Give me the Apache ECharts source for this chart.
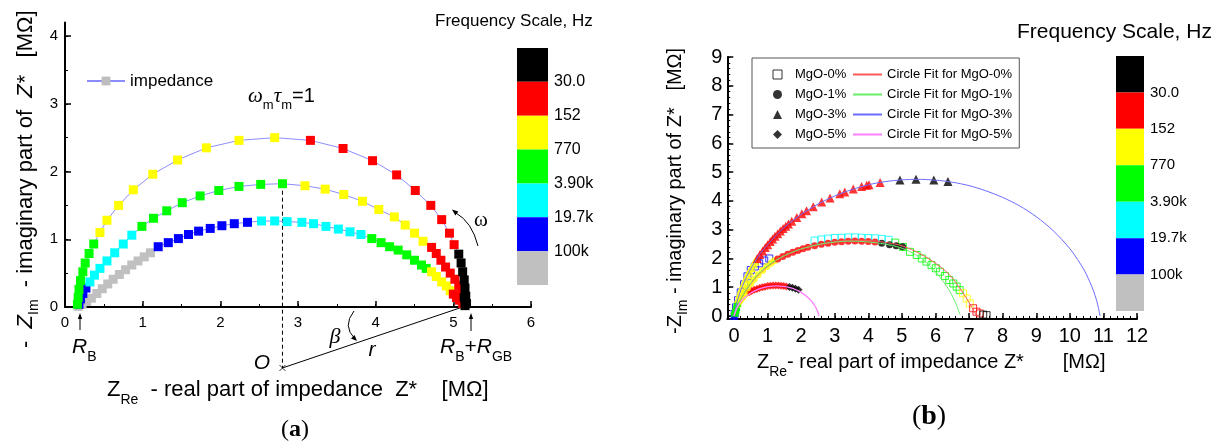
<!DOCTYPE html>
<html><head><meta charset="utf-8">
<script src="https://cdn.jsdelivr.net/npm/echarts@6/dist/echarts.min.js"></script>
<style>html,body{margin:0;padding:0;background:#fff}#c{width:1220px;height:444px}</style>
</head><body><div id="c"></div>
<script>
// ---------- shared ----------
const bandColors = ['#000000','#ff0000','#ffff00','#00ff00','#00ffff','#0000ff','#c0c0c0'];
const freqLabels = ['30.0','152','770','3.90k','19.7k','100k'];

// ---------- panel (a): [Z_re, -Z_im, frequency band] ----------
const aOuter = [[0.16,0.04,3],[0.17,0.14,3],[0.18,0.26,3],[0.2,0.39,3],[0.23,0.52,3],[0.26,0.65,3],[0.31,0.79,3],[0.37,0.93,3],
 [0.45,1.1,2],[0.54,1.28,2],[0.69,1.5,2],[0.88,1.73,2],[1.13,1.96,2],[1.45,2.17,2],[1.82,2.35,2],[2.24,2.46,2],[2.7,2.5,2],
 [3.16,2.46,1],[3.58,2.34,1],[3.96,2.16,1],[4.27,1.95,1],[4.51,1.72,1],[4.71,1.5,1],[4.85,1.29,1],[4.95,1.09,1],[5.01,0.92,1],
 [5.07,0.78,0],[5.1,0.65,0],[5.12,0.52,0],[5.14,0.4,0],[5.15,0.28,0],[5.16,0.16,0],[5.17,0.05,0]];
const aMiddle = [[0.18,0.04,5],[0.2,0.12,5],[0.23,0.2,5],[0.27,0.28,5],
 [0.32,0.37,4],[0.38,0.47,4],[0.45,0.57,4],[0.54,0.68,4],[0.64,0.8,4],[0.75,0.93,4],[0.86,1.06,4],
 [0.99,1.19,3],[1.14,1.31,3],[1.31,1.42,3],[1.51,1.54,3],[1.74,1.64,3],[1.98,1.72,3],[2.24,1.78,3],[2.52,1.81,3],[2.8,1.82,3],
 [3.09,1.79,2],[3.35,1.74,2],[3.59,1.66,2],[3.83,1.56,2],[4.04,1.44,2],[4.24,1.33,2],[4.38,1.21,2],[4.5,1.09,2],[4.61,0.97,2],
 [4.72,0.88,1],[4.78,0.79,1],[4.84,0.69,1],[4.9,0.59,1],[4.96,0.5,1],[5.02,0.41,1],[5.07,0.32,1],[5.11,0.23,1],
 [5.14,0.14,0],[5.16,0.05,0]];
const aInner = [[0.17,0.01,6],[0.22,0.04,6],[0.28,0.08,6],[0.34,0.13,6],[0.41,0.2,6],[0.48,0.27,6],[0.55,0.34,6],[0.62,0.41,6],[0.7,0.48,6],[0.78,0.55,6],[0.86,0.62,6],[0.94,0.68,6],[1.02,0.74,6],[1.1,0.8,6],
 [1.2,0.89,5],[1.33,0.95,5],[1.46,1.01,5],[1.59,1.07,5],[1.72,1.12,5],[1.87,1.16,5],[2.02,1.2,5],[2.18,1.23,5],[2.35,1.25,5],
 [2.53,1.27,4],[2.7,1.27,4],[2.86,1.26,4],[3.05,1.25,4],[3.2,1.23,4],[3.36,1.19,4],[3.52,1.15,4],[3.67,1.11,4],[3.81,1.07,4],
 [3.95,1.01,3],[4.07,0.95,3],[4.18,0.89,3],[4.29,0.84,3],[4.4,0.77,3],[4.5,0.69,3],[4.59,0.62,3],[4.65,0.57,3],
 [4.72,0.52,2],[4.78,0.45,2],[4.85,0.37,2],[4.91,0.31,2],[4.96,0.24,2],
 [5.0,0.19,1],[5.04,0.14,1],[5.08,0.1,1],[5.12,0.05,1],[5.15,0.02,0]];
const aPeak = [2.8, 1.82];
const aCenterO = [2.8, -0.9];
const aEnd = [5.12, 0];
const aXLabels = [0,1,2,3,4,5,6];
const aXTicks = [0,0.5,1,1.5,2,2.5,3,3.5,4,4.5,5,5.5,6];
const aYLabels = [0,1,2,3,4];
const aYTicks = [0,0.5,1,1.5,2,2.5,3,3.5,4];

// ---------- panel (b) ----------
const bMgO0 = [[0.02,0.08,5],[0.06,0.3,5],[0.12,0.55,5],[0.2,0.82,5],[0.3,1.1,5],[0.4,1.38,5],[0.5,1.6,5],[0.62,1.72,5],[0.75,1.83,5],[0.9,1.93,5],[1.05,2.0,5],
 [2.4,2.62,4],[2.6,2.66,4],[2.8,2.69,4],[3.0,2.71,4],[3.2,2.72,4],[3.4,2.73,4],[3.6,2.73,4],[3.8,2.72,4],[4.0,2.71,4],[4.2,2.7,4],[4.4,2.68,4],[4.6,2.65,4],
 [4.8,2.55,3],[5.03,2.4,3],[5.24,2.23,3],[5.44,2.12,3],[5.59,2.0,3],[5.73,1.89,3],[5.88,1.77,3],[6.01,1.66,3],[6.13,1.54,3],[6.28,1.39,3],[6.41,1.25,3],[6.53,1.13,3],[6.63,1.02,3],[6.72,0.9,3],
 [6.82,0.79,2],[6.93,0.61,2],[7.02,0.44,2],[7.12,0.27,1],[7.22,0.15,1],[7.32,0.09,1],[7.42,0.05,0],[7.52,0.03,0]];
const bMgO1 = [[0.02,0.06,3],[0.05,0.17,3],[0.08,0.28,3],
 [0.12,0.4,2],[0.2,0.58,2],[0.3,0.8,2],[0.4,0.97,2],[0.5,1.13,2],[0.6,1.28,2],[0.72,1.43,2],[0.85,1.58,2],[0.98,1.72,2],[1.1,1.83,2],[1.2,1.92,2],
 [1.3,1.98,1],[1.45,2.07,1],[1.6,2.15,1],[1.75,2.22,1],[1.9,2.28,1],[2.05,2.34,1],[2.2,2.39,1],[2.4,2.44,1],[2.6,2.49,1],[2.8,2.53,1],[3.0,2.56,1],[3.2,2.58,1],[3.4,2.6,1],[3.6,2.61,1],[3.8,2.6,1],[4.0,2.59,1],[4.2,2.57,1],
 [4.4,2.53,0],[4.63,2.48,0],[4.83,2.44,0],[5.02,2.41,0]];
const bMgO3 = [[0.0,0.02,5],[0.02,0.13,3],[0.04,0.24,3],[0.06,0.35,3],[0.09,0.48,3],
 [0.12,0.61,2],[0.17,0.79,2],[0.22,0.95,2],[0.28,1.13,2],[0.34,1.28,2],[0.4,1.43,2],[0.46,1.56,2],[0.52,1.69,2],[0.58,1.81,2],[0.63,1.9,2],
 [0.69,2.0,1],[0.77,2.14,1],[0.85,2.26,1],[0.93,2.38,1],[1.0,2.48,1],[1.08,2.59,1],[1.15,2.68,1],[1.22,2.77,1],[1.3,2.86,1],[1.38,2.95,1],[1.46,3.04,1],[1.54,3.12,1],[1.62,3.2,1],[1.72,3.29,1],[1.87,3.42,1],[2.02,3.55,1],[2.16,3.66,1],[2.36,3.8,1],[2.61,3.96,1],[2.86,4.1,1],[3.15,4.25,1],[3.3,4.31,1],[3.55,4.41,1],[3.8,4.5,1],[3.95,4.54,1],[4.02,4.56,1],[4.35,4.64,1],
 [4.94,4.73,0],[5.42,4.75,0],[5.95,4.73,0],[6.37,4.67,0]];
const bMgO5 = [[0.0,0.02,5],[0.02,0.1,3],[0.05,0.22,2],[0.1,0.35,2],[0.16,0.47,2],[0.23,0.58,2],[0.3,0.68,2],[0.38,0.77,2],
 [0.45,0.83,1],[0.52,0.87,1],[0.6,0.91,1],[0.68,0.94,1],[0.76,0.97,1],[0.84,1.0,1],[0.92,1.02,1],[1.0,1.04,1],[1.08,1.05,1],[1.16,1.06,1],[1.24,1.06,1],[1.32,1.06,1],[1.4,1.05,1],[1.48,1.04,1],[1.56,1.03,1],
 [1.65,1.01,0],[1.74,0.98,0],[1.83,0.95,0],[1.92,0.91,0]];
const bFit0 = [[0,0],[0.1,0.33],[0.3,0.78],[0.6,1.27],[1.0,1.72],[1.5,2.08],[2.0,2.32],[2.5,2.48],[3.0,2.58],[3.45,2.63],[4.0,2.62],[4.5,2.56],[4.94,2.46],[5.4,2.25],[5.93,1.89],[6.43,1.42],[6.82,0.8],[7.0,0.47],[7.12,0.22],[7.22,0.02]];
const bFit1 = [[0,0],[0.1,0.35],[0.3,0.8],[0.6,1.3],[1.0,1.75],[1.5,2.1],[2.0,2.33],[2.5,2.48],[3.0,2.57],[3.5,2.6],[3.95,2.58],[4.5,2.5],[4.94,2.38],[5.3,2.2],[5.6,1.98],[5.93,1.62],[6.2,1.25],[6.43,0.85],[6.6,0.45],[6.73,0.05]];
const bFit3 = [[0,0],[0.1,0.53],[0.25,1.04],[0.5,1.65],[0.75,2.12],[1.0,2.48],[1.5,3.08],[2.0,3.53],[2.5,3.89],[3.0,4.17],[3.5,4.39],[4.0,4.56],[4.5,4.67],[5.0,4.73],[5.45,4.75],[6.0,4.72],[6.5,4.65],[7.0,4.53],[7.5,4.35],[8.0,4.12],[8.5,3.83],[9.0,3.45],[9.5,2.97],[10.0,2.34],[10.3,1.84],[10.5,1.43],[10.7,0.89],[10.8,0.53],[10.85,0.29],[10.9,0.0]];
const bFit5 = [[0,0],[0.1,0.31],[0.25,0.56],[0.5,0.8],[0.75,0.94],[1.0,1.02],[1.265,1.05],[1.5,1.03],[1.75,0.96],[2.0,0.82],[2.25,0.59],[2.4,0.37],[2.5,0.13],[2.53,0.0]];
const bXLabels = [0,1,2,3,4,5,6,7,8,9,10,11,12];
const bYLabels = [0,1,2,3,4,5,6,7,8,9];
const bXTicks = Array.from({length:61},(_,i)=>+(i*0.2).toFixed(1));
const bYTicks = Array.from({length:46},(_,i)=>+(i*0.2).toFixed(1));

// ---------- helpers ----------
const SANS = '"Liberation Sans", Arial, sans-serif';
const SERIF = '"Liberation Serif", "Times New Roman", serif';
const mctx = document.createElement('canvas').getContext('2d');
function fontStr(p){ return (p.it?'italic':'normal')+' '+(p.b?'bold':'normal')+' '+p.s+'px '+(p.serif?SERIF:SANS); }
function run(pieces, x, y, opt) {
  opt = opt || {};
  let cx = 0; const kids = [];
  pieces.forEach(p => {
    const f = fontStr(p); mctx.font = f;
    kids.push({type:'text', x:cx, y:p.dy||0, style:{text:p.t, font:f, fill:'#000', align:'left', verticalAlign:'middle', textAlign:'left', textVerticalAlign:'middle'}});
    cx += mctx.measureText(p.t).width;
  });
  const off = opt.anchor==='center' ? -cx/2 : (opt.anchor==='right' ? -cx : 0);
  kids.forEach(k => k.x += off);
  return {type:'group', x:x, y:y, rotation:opt.rot||0, children:kids};
}
function colorBar(x, y0, w, h, labelX, fs) {
  const els = [];
  bandColors.forEach((c,i)=>els.push({type:'rect', shape:{x:x, y:y0+i*h, width:w, height:h}, style:{fill:c}}));
  freqLabels.forEach((t,i)=>els.push(run([{t:t, s:fs}], labelX, y0+(i+1)*h)));
  return els;
}
function axisPair(gridIndex, dim, min, max, labels, minor, fs, margin) {
  const pos = dim==='x' ? 'bottom' : 'left';
  return [
    {gridIndex, type:'value', position:pos, min, max,
     axisLine:{show:true, onZero:false, lineStyle:{color:'#000', width:2}},
     axisTick:{show:true, inside:true, length:3, customValues:minor, lineStyle:{color:'#000', width:1}},
     axisLabel:{show:true, customValues:labels, color:'#000', fontSize:fs, fontFamily:SANS, margin},
     splitLine:{show:false}},
    {gridIndex, type:'value', position:pos, min, max,
     axisLine:{show:false, onZero:false},
     axisTick:{show:true, inside:true, length:6, customValues:labels, lineStyle:{color:'#000', width:1.5}},
     axisLabel:{show:false}, splitLine:{show:false}}
  ];
}
const filled = arr => arr.map(p => ({value:[p[0],p[1]], itemStyle:{color:bandColors[p[2]]}}));
const open = arr => arr.map(p => ({value:[p[0],p[1]], itemStyle:{color:'rgba(255,255,255,0)', borderColor:bandColors[p[2]], borderWidth:1}}));

const arcSeries = (arr) => ({type:'line', name:'impedance', xAxisIndex:0, yAxisIndex:0, data:filled(arr), symbol:'rect', symbolSize:9,
  showAllSymbol:true, lineStyle:{color:'#8c8cff', width:1}, itemStyle:{color:'#bdbdbd'}, z:3});
const fitSeries = (name, data, color, w) => ({type:'line', name, xAxisIndex:2, yAxisIndex:2, data, symbol:'none', smooth:0.3,
  lineStyle:{color, width:w}, itemStyle:{color}, z:4});

const chart = echarts.init(document.getElementById('c'));
const ax = axisPair(0,'x',0,6,aXLabels,aXTicks,15,8);
const ay = axisPair(0,'y',0,4.2,aYLabels,aYTicks,15,7);
const bx = axisPair(1,'x',-0.2,12,bXLabels,bXTicks,20,8);
const by = axisPair(1,'y',-0.1,9,bYLabels,bYTicks,20,5);

const graphics = [].concat(
  // panel a texts
  [run([{t:'Frequency Scale, Hz', s:17}], 435, 21)],
  colorBar(517, 48, 31, 33.86, 554, 16),
  [run([{t:'-  ',s:22},{t:'Z',s:22,it:1},{t:'Im',s:14,dy:8},{t:'  - imaginary part of  ',s:22},{t:'Z*',s:22,it:1},{t:'   [M\u03A9]',s:22}], 26, 348, {rot:Math.PI/2}),
   run([{t:'Z',s:22},{t:'Re',s:14,dy:10},{t:'  - real part of impedance  ',s:22},{t:'Z*',s:22},{t:'    [M\u03A9]',s:22}], 107, 390),
   run([{t:'(',s:24,serif:1},{t:'a',s:24,serif:1,b:1},{t:')',s:24,serif:1}], 295, 430, {anchor:'center'}),
   run([{t:'\u03C9',s:21,serif:1,it:1},{t:'m',s:13,dy:9},{t:'\u03C4',s:21,serif:1,it:1},{t:'m',s:13,dy:9},{t:'=1',s:20}], 248, 96),
   run([{t:'O',s:21,it:1}], 262, 363, {anchor:'center'}),
   run([{t:'\u03B2',s:22,serif:1,it:1}], 335, 337, {anchor:'center'}),
   run([{t:'r',s:21,it:1}], 372, 350, {anchor:'center'}),
   run([{t:'\u03C9',s:21,serif:1}], 481, 220, {anchor:'center'}),
   run([{t:'R',s:21,it:1},{t:'B',s:14,dy:10}], 72, 347),
   run([{t:'R',s:21,it:1},{t:'B',s:14,dy:10},{t:'+',s:21},{t:'R',s:21,it:1},{t:'GB',s:14,dy:10}], 440, 347),
   // arrows
   {type:'line', shape:{x1:80,y1:330,x2:80,y2:317}, style:{stroke:'#000', lineWidth:1}},
   {type:'polygon', shape:{points:[[80,313],[77.8,319],[82.2,319]]}, style:{fill:'#000'}},
   {type:'line', shape:{x1:471,y1:331,x2:471,y2:317}, style:{stroke:'#000', lineWidth:1}},
   {type:'polygon', shape:{points:[[471,313],[468.8,319],[473.2,319]]}, style:{fill:'#000'}},
   {type:'bezierCurve', shape:{x1:478,y1:246,x2:456,y2:213,cpx1:472,cpy1:222}, style:{stroke:'#000', lineWidth:1, fill:null}},
   {type:'polygon', shape:{points:[[452,209.5],[458.3,211.6],[455.3,215.6]]}, style:{fill:'#000'}},
   {type:'bezierCurve', shape:{x1:354,y1:311,x2:355,y2:339,cpx1:342,cpy1:326}, style:{stroke:'#000', lineWidth:1, fill:null}},
   {type:'polygon', shape:{points:[[357,341],[354.6,335],[351,338.6]]}, style:{fill:'#000'}}
  ],
  // panel b texts
  [run([{t:'Frequency Scale, Hz', s:21}], 1017, 32)],
  colorBar(1116, 56, 28, 36.43, 1150, 15),
  [run([{t:'-Z',s:20},{t:'Im',s:14,dy:8},{t:' - imaginary part of Z*   [M\u03A9]',s:20}], 675, 334, {rot:Math.PI/2}),
   run([{t:'Z',s:20},{t:'Re',s:14,dy:10},{t:'- real part of impedance Z*       [M\u03A9]',s:20}], 757, 362),
   run([{t:'(',s:28,serif:1},{t:'b',s:28,serif:1,b:1},{t:')',s:28,serif:1}], 929, 417, {anchor:'center'})
  ]
);

chart.setOption({
  animation:false,
  textStyle:{fontFamily:SANS},
  grid:[{left:65, top:22.5, width:466, height:284.5},{left:727.3, top:57, width:409.7, height:261.9}],
  xAxis:[ax[0],ax[1],bx[0],bx[1]],
  yAxis:[ay[0],ay[1],by[0],by[1]],
  legend:[
    {data:['impedance'], left:86, top:72.5, padding:0, itemWidth:38, itemHeight:11, selectedMode:false,
     textStyle:{fontSize:17, color:'#000', fontFamily:SANS}},
    {data:['MgO-0%','MgO-1%','MgO-3%','MgO-5%'], orient:'vertical', left:752, top:58, padding:[10,173,7,20.5],
     itemWidth:9, itemHeight:9, itemGap:7, selectedMode:false, borderColor:'#555', borderWidth:1,
     itemStyle:{borderWidth:1}, textStyle:{fontSize:13, color:'#000', fontFamily:SANS, padding:[0,0,0,8]}},
    {data:['Circle Fit for MgO-0%','Circle Fit for MgO-1%','Circle Fit for MgO-3%','Circle Fit for MgO-5%'], orient:'vertical',
     left:852, top:68, padding:0, itemWidth:29, itemHeight:9, itemGap:7, selectedMode:false,
     itemStyle:{opacity:0}, textStyle:{fontSize:13, color:'#000', fontFamily:SANS}}
  ],
  series:[
    {type:'line', xAxisIndex:0, yAxisIndex:0, data:[aPeak, aCenterO], symbol:'none', clip:false, lineStyle:{color:'#000', width:1, type:[4,3]}, z:1},
    {type:'line', xAxisIndex:0, yAxisIndex:0, data:[aCenterO, aEnd], symbol:'none', clip:false, lineStyle:{color:'#000', width:1}, z:1},
    {type:'scatter', xAxisIndex:0, yAxisIndex:0, data:[aCenterO], symbol:'path://M0,0L10,10M10,0L0,10', symbolSize:6, clip:false,
     itemStyle:{color:'rgba(0,0,0,0)', borderColor:'#000', borderWidth:1}, z:2},
    arcSeries(aInner), arcSeries(aMiddle), arcSeries(aOuter),
    {type:'scatter', name:'MgO-0%', xAxisIndex:2, yAxisIndex:2, symbol:'rect', symbolSize:7, data:open(bMgO0),
     itemStyle:{color:'rgba(255,255,255,0)', borderColor:'#000', borderWidth:1}, z:2},
    {type:'scatter', name:'MgO-5%', xAxisIndex:2, yAxisIndex:2, symbol:'diamond', symbolSize:8, data:filled(bMgO5), itemStyle:{color:'#000'}, z:2},
    {type:'scatter', name:'MgO-1%', xAxisIndex:2, yAxisIndex:2, symbol:'circle', symbolSize:7, data:filled(bMgO1), itemStyle:{color:'#000'}, z:2},
    {type:'scatter', name:'MgO-3%', xAxisIndex:2, yAxisIndex:2, symbol:'triangle', symbolSize:9, data:filled(bMgO3), itemStyle:{color:'#000'}, z:2},
    fitSeries('Circle Fit for MgO-0%', bFit0, '#ff5a5a', 1),
    fitSeries('Circle Fit for MgO-1%', bFit1, '#66ee66', 1),
    fitSeries('Circle Fit for MgO-3%', bFit3, '#6b6bff', 1),
    fitSeries('Circle Fit for MgO-5%', bFit5, '#ff80ff', 1.3)
  ],
  graphic: graphics
});
</script></body></html>
